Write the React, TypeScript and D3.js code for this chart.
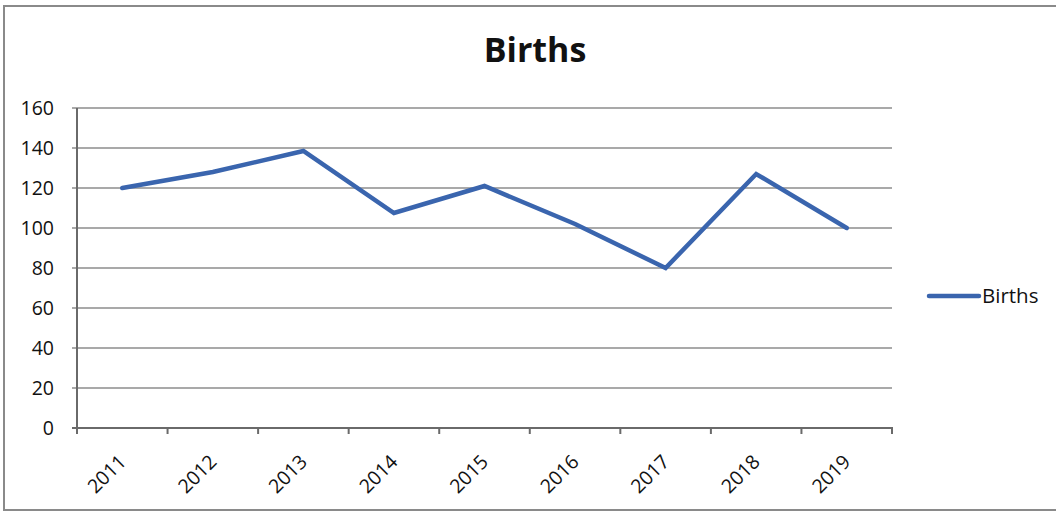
import React from "react";
import * as d3 from "d3";

const years = ["2011", "2012", "2013", "2014", "2015", "2016", "2017", "2018", "2019"];
const births = [120, 128, 138.5, 107.5, 121, 102, 80, 127, 100];
const yTicks = [0, 20, 40, 60, 80, 100, 120, 140, 160];
const seriesName = "Births";
const chartTitle = "Births";

const W = 1056;
const H = 512;
const plot = { left: 77, right: 892, top: 108, bottom: 428 };
const font = "'Open Sans', 'Noto Sans', sans-serif";
const lineColor = "#3A65AE";

export default function App() {
  const x = d3.scaleBand<string>().domain(years).range([plot.left, plot.right]).paddingInner(0).paddingOuter(0);
  const y = d3.scaleLinear().domain([0, 160]).range([plot.bottom, plot.top]);
  const cx = (d: string) => (x(d) as number) + x.bandwidth() / 2;

  const line = d3
    .line<number>()
    .x((_, i) => cx(years[i]))
    .y((v) => y(v));

  const tickXs = years.map((d) => x(d) as number).concat([plot.right]);

  return (
    <svg
      width={W}
      height={H}
      style={{ position: "absolute", left: 0, top: 0, background: "#fff" }}
    >
      {/* chart frame */}
      <rect x={4} y={6} width={W + 10} height={504} fill="#fff" stroke="#8a8a8a" strokeWidth={2} />

      {/* title */}
      <text x={535} y={62} textAnchor="middle" fontFamily={font} fontWeight={700} fontSize={34} fill="#111">
        {chartTitle}
      </text>

      {/* horizontal gridlines */}
      {yTicks.map((t) => (
        <line
          key={"g" + t}
          x1={plot.left - 5}
          x2={plot.right}
          y1={y(t)}
          y2={y(t)}
          stroke={t === 0 ? "#6a6a6a" : "#8c8c8c"}
          strokeWidth={t === 0 ? 2 : 1.6}
        />
      ))}

      {/* value axis */}
      <line x1={plot.left} x2={plot.left} y1={plot.top} y2={plot.bottom + 6} stroke="#6a6a6a" strokeWidth={2} />
      {yTicks.map((t) => (
        <text
          key={"yl" + t}
          x={54}
          y={y(t)}
          dy="0.36em"
          textAnchor="end"
          fontFamily={font}
          fontSize={19.5}
          fill="#111"
        >
          {t}
        </text>
      ))}

      {/* category axis ticks */}
      {tickXs.map((tx, i) => (
        <line key={"xt" + i} x1={tx} x2={tx} y1={plot.bottom - 1} y2={plot.bottom + 6} stroke="#6a6a6a" strokeWidth={2} />
      ))}
      {years.map((d) => (
        <text
          key={"xl" + d}
          transform={`translate(${cx(d) + 5},${plot.bottom + 35}) rotate(-45)`}
          textAnchor="end"
          fontFamily={font}
          fontSize={19.5}
          fill="#111"
        >
          {d}
        </text>
      ))}

      {/* series line */}
      <path
        d={line(births) || ""}
        fill="none"
        stroke={lineColor}
        strokeWidth={4.5}
        strokeLinejoin="miter"
        strokeLinecap="round"
      />

      {/* legend */}
      <line x1={929} x2={979} y1={296} y2={296} stroke={lineColor} strokeWidth={4.5} strokeLinecap="round" />
      <text x={982} y={296} dy="0.36em" fontFamily={font} fontSize={20.5} fill="#111">
        {seriesName}
      </text>
    </svg>
  );
}
